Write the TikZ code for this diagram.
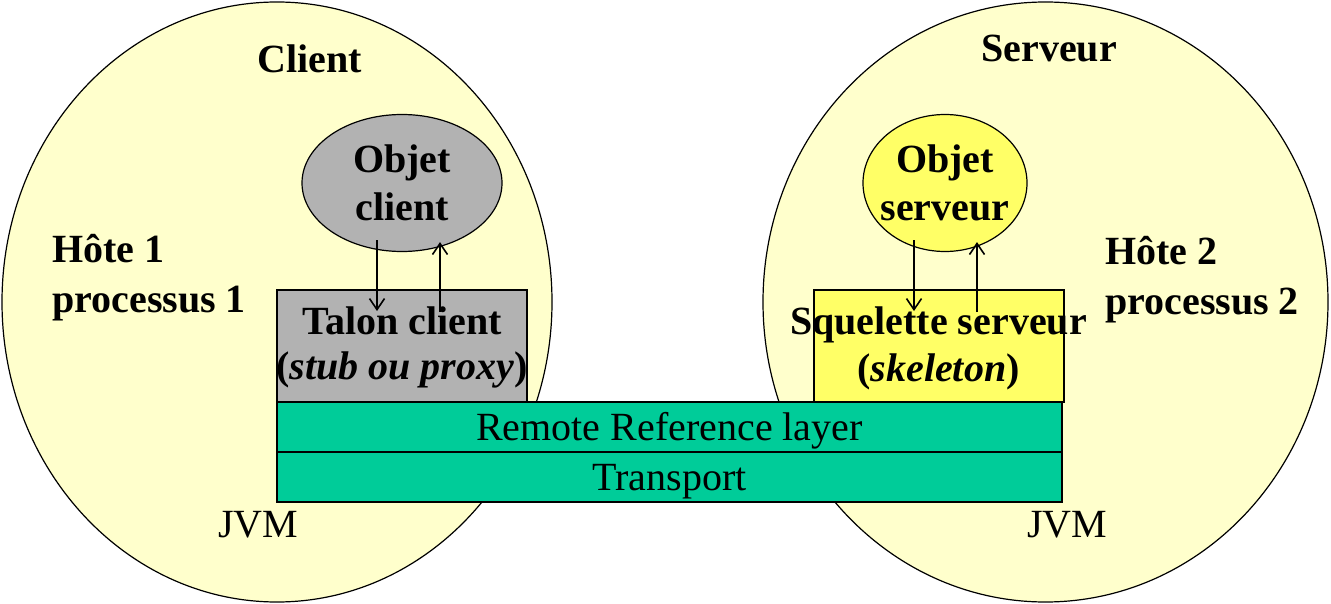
\documentclass[tikz,border=0pt]{standalone}
\usepackage{fontspec}
\setmainfont{Liberation Serif}
\definecolor{hostyellow}{RGB}{255, 255, 204}
\definecolor{stubgray}{RGB}{178, 178, 178}
\definecolor{skelyellow}{RGB}{255, 255, 102}
\definecolor{layergreen}{RGB}{0, 204, 153}
\usetikzlibrary{arrows.meta, positioning, shapes.geometric}
\tikzset{
	jvmzone/.style={ellipse, draw=black, fill=hostyellow, line width=1.2pt, inner sep=0pt, minimum height=600pt},
	objzone/.style={ellipse, draw=black, line width=1.2pt, inner sep=0pt, minimum height=137pt},
	stubbox/.style={rectangle, draw=black, line width=2pt, inner sep=0pt, minimum width=250pt, minimum height=112pt},
	layerbox/.style={rectangle, draw=black, fill=layergreen, line width=2pt, inner sep=0pt, minimum width=785pt, minimum height=50pt, text height=34pt, text depth=7pt, font=\fontsize{40}{48}\selectfont},
	boldtxt/.style={align=center, inner sep=0pt, font=\fontsize{40}{48}\selectfont\bfseries},
	sidetxt/.style={align=left, inner sep=0pt, anchor=west, font=\fontsize{40}{50}\selectfont\bfseries},
	plaintxt/.style={inner sep=0pt, anchor=base west, font=\fontsize{40}{48}\selectfont},
	callarrow/.style={-{Straight Barb[length=11pt, width=15pt]}, line width=1.6pt},
}
\begin{document}
\begin{tikzpicture}[x=1pt, y=-1pt]
		\useasboundingbox (0,0) rectangle (1331,604);
		% the two hosts
		\node[jvmzone, minimum width=550pt] (host1) at (277,302) {};
		\node[jvmzone, minimum width=565pt] (host2) at (1045.5,302) {};
		\node[boldtxt, anchor=base] (cltitle) at (310,73) {Client};
		\node[boldtxt, anchor=base] (svtitle) at (1049,62) {Serveur};
		\node[sidetxt] (h1txt) at (52,278) {Hôte 1\\processus 1};
		\node[sidetxt] (h2txt) at (1105,280) {Hôte 2\\processus 2};
		% objects
		\node[objzone, fill=stubgray, minimum width=200pt] (objcl) at (402,183) {};
		\node[boldtxt] at (objcl.center) {Objet\\client};
		\node[objzone, fill=skelyellow, minimum width=164pt] (objsv) at (945,183) {};
		\node[boldtxt] at (objsv.center) {Objet\\serveur};
		% stub and skeleton
		\node[stubbox, fill=stubgray] (stub) at (402,346) {};
		\node[boldtxt, font=\fontsize{40}{45}\selectfont\bfseries] at ([yshift=-1pt]stub.center) {Talon client\\(\textit{stub ou proxy})};
		\node[stubbox, fill=skelyellow, minimum width=250pt] (skel) at (938.5,346) {};
		\node[boldtxt, font=\fontsize{40}{47}\selectfont\bfseries] at ([yshift=-2pt]skel.center) {Squelette serveur\\(\textit{skeleton})};
		% layers
		\node[layerbox] (rrl) at (669.5,427) {Remote Reference layer};
		\node[layerbox, below=-2pt of rrl] (transport) {Transport};
		\node[plaintxt] (jvm1) at (218,537) {JVM};
		\node[plaintxt] (jvm2) at (1027,537) {JVM};
		% calls
		\draw[callarrow] ([xshift=-25pt, yshift=12pt]objcl.south) -- ([xshift=-25pt, yshift=-22pt]stub.north);
		\draw[callarrow] ([xshift=38pt, yshift=-23pt]stub.north) -- ([xshift=38pt, yshift=10pt]objcl.south);
		\draw[callarrow] ([xshift=-31pt, yshift=12pt]objsv.south) -- ([xshift=-24.5pt, yshift=-22pt]skel.north);
		\draw[callarrow] ([xshift=38.5pt, yshift=-23pt]skel.north) -- ([xshift=32pt, yshift=10pt]objsv.south);
	\end{tikzpicture}
\end{document}
